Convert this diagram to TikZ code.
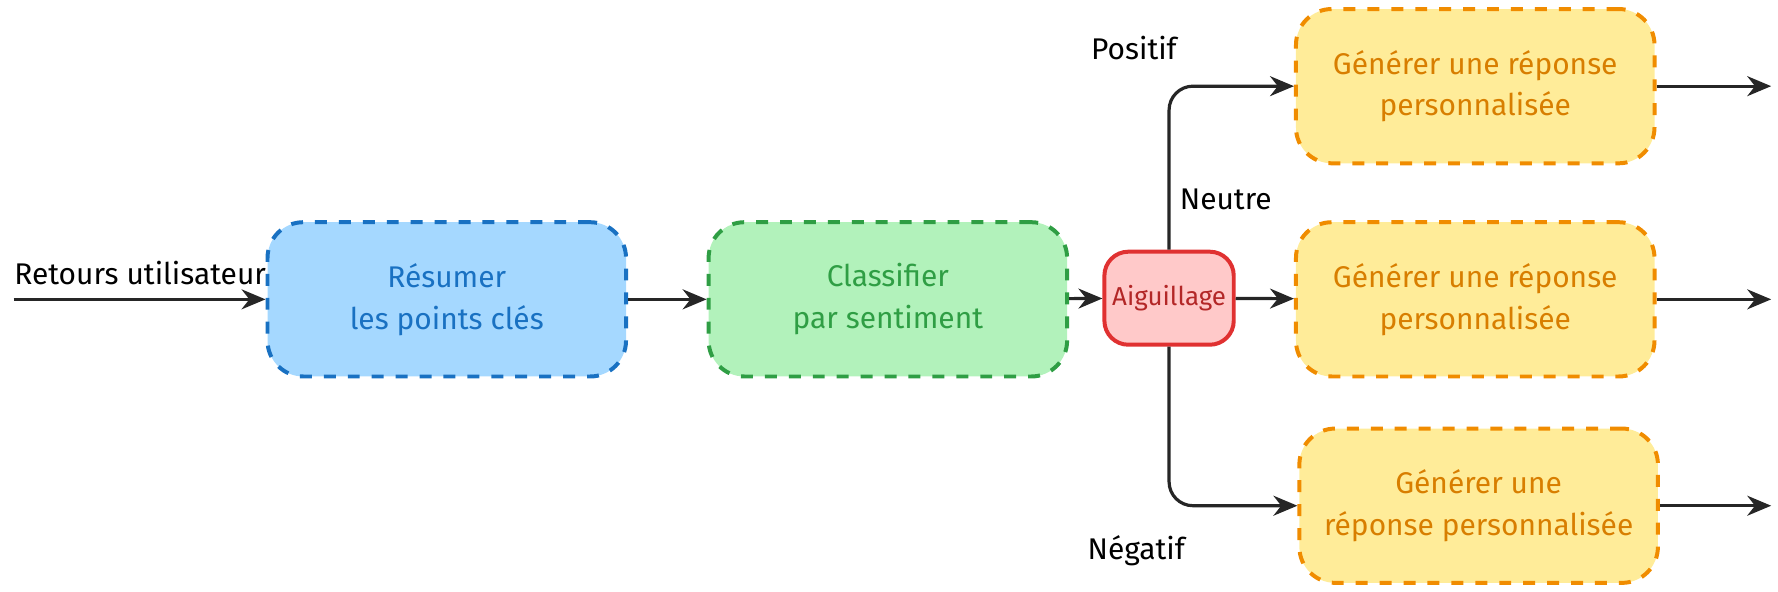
\documentclass[tikz,border=0pt]{standalone}
\usepackage{fontspec}
\setmainfont{Fira Sans}
\usetikzlibrary{positioning,arrows.meta}
\definecolor{bluefill}{HTML}{A5D8FF}\definecolor{blueline}{HTML}{1971C2}
\definecolor{greenfill}{HTML}{B2F2BB}\definecolor{greenline}{HTML}{2F9E44}
\definecolor{redfill}{HTML}{FFC9C9}\definecolor{redline}{HTML}{E03131}
\definecolor{orangefill}{HTML}{FFEC99}\definecolor{orangeline}{HTML}{F08C00}
\begin{document}
\begin{tikzpicture}[x=0.01cm,y=-0.01cm,font=\fontsize{7.5}{10.5}\selectfont]
\tikzset{boite/.style={rounded corners=9pt, dashed, line width=1pt, align=center, minimum width=3.16cm, minimum height=1.36cm},
bleu/.style={boite, fill=bluefill, draw=blueline, text=blueline},
vert/.style={boite, fill=greenfill, draw=greenline, text=greenline},
orange/.style={boite, fill=orangefill, draw=orangeline, text=orangeline!90!black},
fleche/.style={-{Stealth[length=6pt,width=5pt]}, line width=0.8pt, black!85}}
\useasboundingbox (0,0) rectangle (1568,522);
\coordinate (entree) at (12,264);
\node[bleu] (resumer) at (394,264) {Résumer\\les points clés};
\node[vert] (classifier) at (783,264) {Classifier\\par sentiment};
\node[fill=redfill, draw=redline, text=redline!80!black, rounded corners=6pt, line width=1pt, minimum width=1.14cm, minimum height=0.82cm, inner sep=1pt, font=\fontsize{6.5}{8}\selectfont] (aiguillage) at (1031,263) {Aiguillage};
\node[orange] (rep1) at (1301,76) {Générer une réponse\\personnalisée};
\node[orange] (rep2) at (1301,264) {Générer une réponse\\personnalisée};
\node[orange] (rep3) at (1304,446) {Générer une\\réponse personnalisée};
\node[anchor=south west, inner sep=0pt] (retours) at (12,252) {Retours utilisateur};
\node (positif) at (1000,42) {Positif};
\node (neutre) at (1081,176) {Neutre};
\node (negatif) at (1002,486) {Négatif};
\foreach \n/\y in {1/76,2/264,3/446}{
\coordinate (sortie\n) at (1562,\y);
\draw[fleche] (rep\n.east) -- (sortie\n);}
\draw[fleche] (entree) -- (resumer.west);
\draw[fleche] (resumer) -- (classifier);
\draw[fleche] (classifier) -- (aiguillage);
\draw[fleche, rounded corners=6pt] (aiguillage.north) -- (1031,76) -- (rep1.west);
\draw[fleche] (aiguillage) -- (rep2);
\draw[fleche, rounded corners=6pt] (aiguillage.south) -- (1031,446) -- (rep3.west);
\end{tikzpicture}
\end{document}
